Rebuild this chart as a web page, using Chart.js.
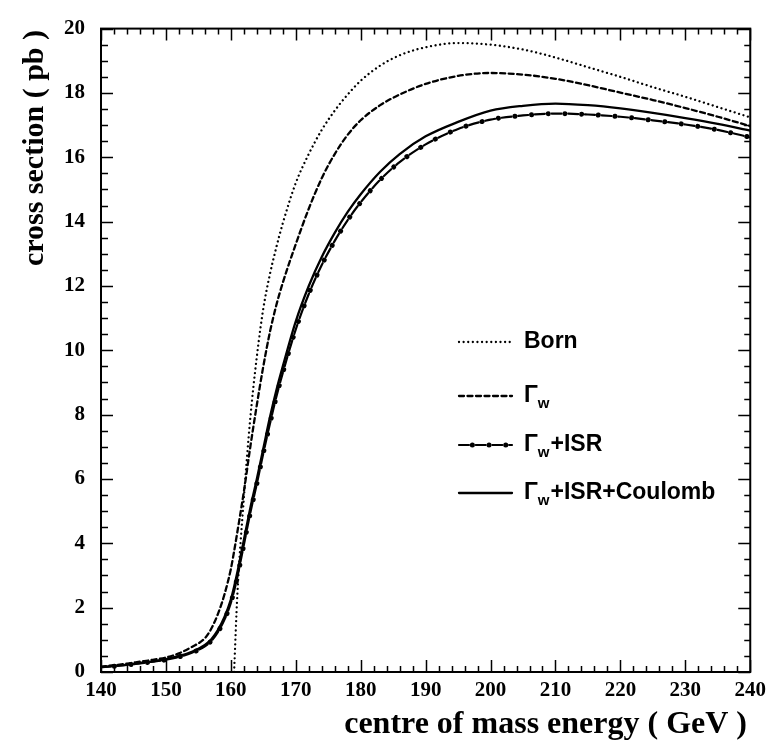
<!DOCTYPE html>
<html>
<head>
<meta charset="utf-8">
<script src="https://cdn.jsdelivr.net/npm/chart.js@4.4.0/dist/chart.umd.min.js"></script>
<style>
  html, body { margin: 0; padding: 0; background: #fff; }
  #wrap { width: 772px; height: 744px; }
</style>
</head>
<body>
<div id="wrap"><canvas id="xsec"></canvas></div>
<script>
// centre of mass energy grid (GeV)
const energies = [140, 142, 144, 146, 148, 150, 152, 154, 156, 157, 158, 159, 160, 160.5,
  161, 162, 163, 164, 165, 166, 167, 168, 170, 172, 174, 176, 178, 180, 183, 186,
  190, 195, 200, 205, 210, 215, 220, 225, 230, 235, 240];

// cross sections (pb)
const born = [null, null, null, null, null, null, null, null, null, null, null, null, null, 0,
  2.4, 5.4, 7.9, 9.8, 11.3, 12.35, 13.2, 13.95, 15.2, 16.1, 16.85, 17.45, 17.95, 18.38, 18.85, 19.17,
  19.42, 19.55, 19.5, 19.35, 19.1, 18.8, 18.5, 18.18, 17.88, 17.56, 17.24];
const gammaW = [0.17, 0.21, 0.26, 0.32, 0.38, 0.45, 0.58, 0.78, 1.05, 1.35, 1.8, 2.4, 3.2, 3.75,
  4.35, 5.6, 7.0, 8.3, 9.5, 10.55, 11.4, 12.1, 13.3, 14.4, 15.35, 16.1, 16.7, 17.15, 17.62, 17.95,
  18.28, 18.53, 18.62, 18.57, 18.44, 18.24, 18.01, 17.78, 17.53, 17.26, 16.97];
const gammaWIsr = [0.15, 0.18, 0.22, 0.27, 0.32, 0.38, 0.47, 0.6, 0.8, 0.97, 1.24, 1.62, 2.15, 2.52,
  2.95, 3.95, 4.95, 5.85, 6.8, 7.7, 8.55, 9.3, 10.65, 11.75, 12.65, 13.4, 14.05, 14.6, 15.3, 15.85,
  16.4, 16.88, 17.17, 17.3, 17.36, 17.33, 17.26, 17.15, 17.02, 16.85, 16.62];
const gammaWIsrCoul = [0.15, 0.19, 0.23, 0.28, 0.33, 0.4, 0.5, 0.63, 0.84, 1.02, 1.3, 1.7, 2.25, 2.65,
  3.1, 4.1, 5.1, 6.0, 6.95, 7.9, 8.75, 9.5, 10.9, 12.0, 12.9, 13.65, 14.3, 14.85, 15.55, 16.1,
  16.65, 17.1, 17.45, 17.6, 17.67, 17.62, 17.52, 17.38, 17.22, 17.04, 16.83];

const xMin = 140, xMax = 240, xMajor = 10, xMinor = 2;
const yMin = 0, yMax = 20, yMajor = 2, yMinor = 0.5;

const pts = arr => energies.map((e, i) => ({ x: e, y: arr[i] }));

const serif = 'Liberation Serif, Times New Roman, serif';
const sans = 'Liberation Sans, Arial, sans-serif';

// line styles
const dotted = [0.01, 4.6];
const dashed = [5, 3.5];
const dashDot = [10, 6.7];      // dash part of the dash-dot line
const dotsOnly = [0.01, 16.69]; // dots laid into the gaps of dashDot
const dotOffset = 3.35;

function curve(data, dash, width, offset) {
  return {
    data: pts(data),
    borderColor: '#000',
    borderWidth: width,
    borderDash: dash,
    borderDashOffset: offset || 0,
    borderCapStyle: 'round',
    pointRadius: 0,
    fill: false,
    cubicInterpolationMode: 'monotone',
    spanGaps: false
  };
}

const legendRows = [
  { y: 342, main: 'Born', sub: '', rest: '', dash: dotted, width: 2.3 },
  { y: 396, main: 'Γ', sub: 'w', rest: '', dash: dashed, width: 2.3 },
  { y: 445, main: 'Γ', sub: 'w', rest: '+ISR', dash: dashDot, width: 2.2, dots: true },
  { y: 493, main: 'Γ', sub: 'w', rest: '+ISR+Coulomb', dash: [], width: 2.3 }
];

const framePlugin = {
  id: 'frame',
  afterDraw(chart) {
    const ctx = chart.ctx;
    const a = chart.chartArea;
    const xs = chart.scales.x, ys = chart.scales.y;
    ctx.save();
    ctx.strokeStyle = '#000';
    ctx.fillStyle = '#000';

    // axis ticks, pointing inwards on all four sides
    ctx.lineWidth = 1.5;
    ctx.beginPath();
    for (let v = xMin; v <= xMax + 1e-9; v += xMinor) {
      const px = Math.round(xs.getPixelForValue(v)) + 0.5;
      const major = Math.abs(v / xMajor - Math.round(v / xMajor)) < 1e-6;
      const len = major ? 12 : 6;
      ctx.moveTo(px, a.bottom); ctx.lineTo(px, a.bottom - len);
      ctx.moveTo(px, a.top); ctx.lineTo(px, a.top + len);
    }
    for (let v = yMin; v <= yMax + 1e-9; v += yMinor) {
      const py = Math.round(ys.getPixelForValue(v)) + 0.5;
      const major = Math.abs(v / yMajor - Math.round(v / yMajor)) < 1e-6;
      ctx.moveTo(a.left, py); ctx.lineTo(a.left + (major ? 12 : 7), py);
      ctx.moveTo(a.right, py); ctx.lineTo(a.right - (major ? 12 : 6), py);
    }
    ctx.stroke();

    ctx.lineWidth = 2;
    ctx.strokeRect(a.left, a.top, a.right - a.left, a.bottom - a.top);

    // axis titles
    ctx.font = 'bold 32px ' + serif;
    ctx.textAlign = 'right';
    ctx.textBaseline = 'alphabetic';
    ctx.fillText('centre of mass energy ( GeV )', 747, 733);

    ctx.save();
    ctx.translate(43, 30);
    ctx.rotate(-Math.PI / 2);
    ctx.font = 'bold 30px ' + serif;
    ctx.textAlign = 'right';
    ctx.fillText('cross section ( pb )', 0, 0);
    ctx.restore();

    // legend
    const x0 = 459, x1 = 512, tx = 524;
    legendRows.forEach(r => {
      ctx.lineWidth = r.width;
      ctx.lineCap = 'round';
      ctx.setLineDash(r.dash);
      ctx.beginPath();
      ctx.moveTo(x0, r.y); ctx.lineTo(x1, r.y);
      ctx.stroke();
      if (r.dots) {
        ctx.lineWidth = 5;
        ctx.setLineDash(dotsOnly);
        ctx.lineDashOffset = dotOffset;
        ctx.beginPath();
        ctx.moveTo(x0, r.y); ctx.lineTo(x1, r.y);
        ctx.stroke();
        ctx.lineDashOffset = 0;
      }
      ctx.setLineDash([]);

      ctx.textAlign = 'left';
      ctx.textBaseline = 'middle';
      ctx.font = 'bold 23px ' + sans;
      let x = tx;
      ctx.fillText(r.main, x, r.y);
      x += ctx.measureText(r.main).width;
      if (r.sub) {
        ctx.font = 'bold 15px ' + sans;
        ctx.fillText(r.sub, x, r.y + 8);
        x += ctx.measureText(r.sub).width + 1;
        ctx.font = 'bold 23px ' + sans;
      }
      if (r.rest) ctx.fillText(r.rest, x, r.y);
    });
    ctx.restore();
  }
};

new Chart(document.getElementById('xsec'), {
  type: 'line',
  data: {
    datasets: [
      curve(born, dotted, 2.3),
      curve(gammaW, dashed, 2.3),
      curve(gammaWIsr, dashDot, 2.2),
      curve(gammaWIsr, dotsOnly, 5, dotOffset),
      curve(gammaWIsrCoul, [], 2.3)
    ]
  },
  options: {
    responsive: true,
    maintainAspectRatio: false,
    animation: false,
    layout: { padding: { left: 0, top: 22, right: 20, bottom: 0 } },
    plugins: { legend: { display: false }, tooltip: { enabled: false } },
    scales: {
      x: {
        type: 'linear',
        min: xMin, max: xMax,
        afterFit: s => { s.height = 72; },
        grid: { display: false, drawTicks: false },
        border: { display: false },
        ticks: {
          stepSize: xMajor,
          padding: 6,
          color: '#000',
          font: { family: serif, weight: 'bold', size: 21 }
        }
      },
      y: {
        min: yMin, max: yMax,
        afterFit: s => { s.width = 101; },
        grid: { display: false, drawTicks: false },
        border: { display: false },
        ticks: {
          stepSize: yMajor,
          padding: 16,
          color: '#000',
          font: { family: serif, weight: 'bold', size: 21 }
        }
      }
    }
  },
  plugins: [framePlugin]
});
</script>
</body>
</html>
